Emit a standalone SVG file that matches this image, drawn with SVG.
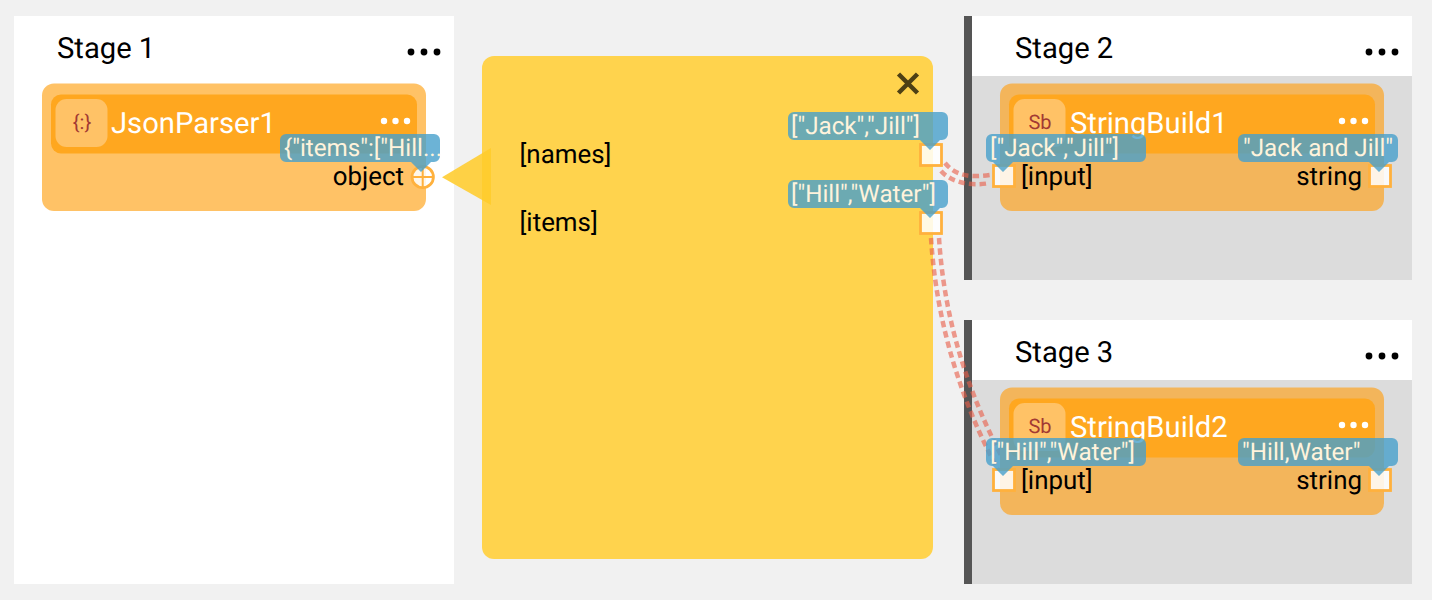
<svg xmlns="http://www.w3.org/2000/svg" width="1432" height="600" viewBox="0 0 1432 600">
<defs>
<style>
text{font-family:Roboto,"Liberation Sans",sans-serif;text-rendering:geometricPrecision}
.stage{fill:#fff}.body{fill:#dcdcdc}.bar{fill:#555}
.st{font-size:29.200px;fill:#000}
.nd1{fill:#ffc266}.nd{fill:#f3b55b}.hd{fill:#ffa71f}.ic{fill:#ffc266}
.ttl{font-size:29.200px;fill:#fff}
.ict{font-size:20px;fill:#a33a33;text-anchor:middle}
.pl{font-size:25.900px;fill:#000}
.tip{fill:#47a0cc;fill-opacity:.8}
.tipt{font-size:24.200px;fill:#fff3dc}
.port{fill:#fff;fill-opacity:.85;stroke:#ffb13d;stroke-width:2.800}
.wire{fill:none;stroke:#e8604a;stroke-opacity:.62;stroke-width:4.500;stroke-dasharray:6.500 4}
</style>
<g id="dots"><circle cx="-13" cy="0" r="3.4"/><circle cx="0" cy="0" r="3.4"/><circle cx="13" cy="0" r="3.4"/></g>
<g id="ndots"><circle cx="-11.500" cy="0" r="3.200"/><circle cx="0" cy="0" r="3.200"/><circle cx="11.500" cy="0" r="3.200"/></g>
</defs>
<rect width="1432" height="600" fill="#f1f1f1"/>
<g id="stage1">
<rect class="stage" x="14" y="16" width="440" height="568"/>
<text class="st" x="57" y="58">Stage 1</text>
<use href="#dots" x="424" y="52" fill="#000"/>
</g>
<g id="stage2">
<rect class="bar" x="964" y="16" width="8" height="264"/>
<rect class="stage" x="972" y="16" width="440" height="60"/>
<rect class="body" x="972" y="76" width="440" height="204"/>
<text class="st" x="1015" y="58">Stage 2</text>
<use href="#dots" x="1382" y="52" fill="#000"/>
</g>
<g id="stage3">
<rect class="bar" x="964" y="320" width="8" height="264"/>
<rect class="stage" x="972" y="320" width="440" height="60"/>
<rect class="body" x="972" y="380" width="440" height="204"/>
<text class="st" x="1015" y="362">Stage 3</text>
<use href="#dots" x="1382" y="356" fill="#000"/>
</g>
<g id="JsonParser1">
<rect class="nd1" x="42" y="83.500" width="384" height="127.500" rx="12"/>
<rect class="hd" x="51" y="94.500" width="366" height="59" rx="10"/>
<rect class="ic" x="55.500" y="99" width="52" height="48" rx="11"/>
<text class="ict" x="82" y="129">{:}</text>
<text class="ttl" x="111" y="133">JsonParser1</text>
<use href="#ndots" x="395.500" y="121" fill="#fff"/>
<text class="pl" x="404" y="185" text-anchor="end">object</text>
<circle class="port" cx="422.700" cy="177" r="10.700"/>
<path d="M412 177H433.500M422.700 166V188" stroke="#ffb13d" stroke-width="2" fill="none"/>
<path class="tip" d="M286 134H434a6 6 0 0 1 6 6V156a6 6 0 0 1-6 6H431L421 172L411 162H286a6 6 0 0 1-6-6V140a6 6 0 0 1 6-6Z"/>
<text class="tipt" x="284" y="156">{"items":["Hill...</text>
</g>
<g id="popup">
<rect x="482" y="56" width="451" height="503" rx="12" fill="#ffd34d"/>
<path d="M442 177.300L491 148V205Z" fill="#ffcb2a" fill-opacity=".87"/>
<path d="M898.500 74L917.500 93M917.500 74L898.500 93" stroke="#4e4014" stroke-width="4.500" fill="none"/>
<text class="pl" x="519.500" y="163">[names]</text>
<text class="pl" x="519.500" y="231">[items]</text>
<rect class="port" x="920.500" y="144.500" width="21" height="21"/>
<rect class="port" x="920.500" y="212.500" width="21" height="21"/>
<path class="tip" d="M794 112H942a6 6 0 0 1 6 6V134a6 6 0 0 1-6 6H940L930 150L920 140H794a6 6 0 0 1-6-6V118a6 6 0 0 1 6-6Z"/>
<text class="tipt" x="791" y="134">["Jack","Jill"]</text>
<path class="tip" d="M794 180H942a6 6 0 0 1 6 6V202a6 6 0 0 1-6 6H940L930 218L920 208H794a6 6 0 0 1-6-6V186a6 6 0 0 1 6-6Z"/>
<text class="tipt" x="791" y="202">["Hill","Water"]</text>
</g>
<g id="connectors">
<path class="wire" d="M945 163C955 175 968 178 990 175"/>
<path class="wire" d="M941 171C950 181 968 187 990 183"/>
<path class="wire" d="M931 238C935 300 950 380 998 470"/>
<path class="wire" d="M939 238C943 300 958 375 1006 465"/>
</g>
<g id="StringBuild1">
<rect class="nd" x="1000" y="83.500" width="384" height="127.500" rx="12"/>
<rect class="hd" x="1009" y="94.500" width="366" height="59" rx="10"/>
<rect class="ic" x="1013.500" y="99" width="52" height="48" rx="11"/>
<text class="ict" x="1040" y="129">Sb</text>
<text class="ttl" x="1070" y="133">StringBuild1</text>
<use href="#ndots" x="1353.500" y="121" fill="#fff"/>
<rect class="port" x="993.500" y="165.500" width="21" height="21"/>
<text class="pl" x="1021" y="185">[input]</text>
<text class="pl" x="1362" y="185" text-anchor="end">string</text>
<rect class="port" x="1369.500" y="165.500" width="21" height="21"/>
<path class="tip" d="M992 134H1140a6 6 0 0 1 6 6V156a6 6 0 0 1-6 6H1013L1003 172L993 162H992a6 6 0 0 1-6-6V140a6 6 0 0 1 6-6Z"/>
<text class="tipt" x="990" y="156">["Jack","Jill"]</text>
<path class="tip" d="M1244 134H1392a6 6 0 0 1 6 6V156a6 6 0 0 1-6 6H1389L1379 172L1369 162H1244a6 6 0 0 1-6-6V140a6 6 0 0 1 6-6Z"/>
<text class="tipt" x="1243" y="156">"Jack and Jill"</text>
</g>
<g id="StringBuild2">
<rect class="nd" x="1000" y="387.500" width="384" height="127.500" rx="12"/>
<rect class="hd" x="1009" y="398.500" width="366" height="59" rx="10"/>
<rect class="ic" x="1013.500" y="403" width="52" height="48" rx="11"/>
<text class="ict" x="1040" y="433">Sb</text>
<text class="ttl" x="1070" y="437">StringBuild2</text>
<use href="#ndots" x="1353.500" y="425" fill="#fff"/>
<rect class="port" x="993.500" y="469.500" width="21" height="21"/>
<text class="pl" x="1021" y="489">[input]</text>
<text class="pl" x="1362" y="489" text-anchor="end">string</text>
<rect class="port" x="1369.500" y="469.500" width="21" height="21"/>
<path class="tip" d="M992 438H1140a6 6 0 0 1 6 6V460a6 6 0 0 1-6 6H1013L1003 476L993 466H992a6 6 0 0 1-6-6V444a6 6 0 0 1 6-6Z"/>
<text class="tipt" x="990" y="460">["Hill","Water"]</text>
<path class="tip" d="M1244 438H1392a6 6 0 0 1 6 6V460a6 6 0 0 1-6 6H1389L1379 476L1369 466H1244a6 6 0 0 1-6-6V444a6 6 0 0 1 6-6Z"/>
<text class="tipt" x="1242" y="460">"Hill,Water"</text>
</g>
</svg>
